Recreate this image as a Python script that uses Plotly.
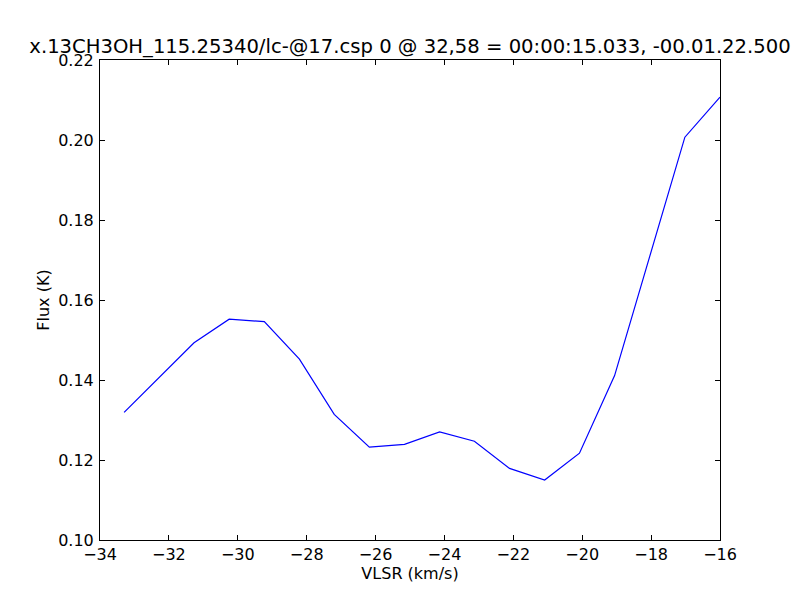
import plotly.graph_objects as go

velocity = [-33.30, -32.28, -31.27, -30.25, -29.23, -28.21, -27.20, -26.18, -25.16,
            -24.14, -23.13, -22.11, -21.09, -20.08, -19.06, -18.04, -17.02, -16.00]
flux = [0.1319, 0.1406, 0.1493, 0.1552, 0.1546, 0.1452, 0.1314, 0.1232, 0.1239,
        0.1270, 0.1247, 0.1179, 0.1150, 0.1217, 0.1411, 0.1709, 0.2007, 0.2107]
x_ticks = [-34, -32, -30, -28, -26, -24, -22, -20, -18, -16]
y_ticks = [0.10, 0.12, 0.14, 0.16, 0.18, 0.20, 0.22]

title_text = "x.13CH3OH_115.25340/lc-@17.csp 0 @ 32,58 = 00:00:15.033, -00.01.22.500"

fig = go.Figure()
fig.add_trace(go.Scatter(x=velocity, y=flux, mode="lines",
                         line=dict(color="#0000ff", width=1.2), showlegend=False))

axis_common = dict(showgrid=False, zeroline=False, showline=True, linecolor="black",
                   linewidth=1, mirror="ticks", ticks="inside", ticklen=5,
                   tickcolor="black", tickwidth=1,
                   tickfont=dict(family="DejaVu Sans", size=16, color="black"))

# page body has an 8px margin, so offsets are compensated
fig.update_layout(
    width=800, height=600,
    paper_bgcolor="white", plot_bgcolor="white",
    margin=dict(l=92, r=88, t=52, b=68, pad=0),
    font=dict(family="DejaVu Sans", color="black"),
    title=dict(text=title_text, x=0.5, xref="paper", xanchor="center",
               y=1 - 38 / 600, yref="container", yanchor="middle",
               font=dict(family="DejaVu Sans", size=19.6, color="black")),
    xaxis=dict(range=[-34, -16], tickvals=x_ticks,
               ticktext=[f"\u2212{abs(v)}" for v in x_ticks],
               title=dict(text="VLSR (km/s)", standoff=3,
                          font=dict(family="DejaVu Sans", size=16, color="black")),
               ticklabelstandoff=0, **axis_common),
    yaxis=dict(range=[0.10, 0.22], tickvals=y_ticks,
               ticktext=[f"{v:.2f}" for v in y_ticks],
               title=dict(text="Flux (K)", standoff=4,
                          font=dict(family="DejaVu Sans", size=16, color="black")),
               ticklabelstandoff=2, **axis_common),
)

fig.write_html("out.html")
